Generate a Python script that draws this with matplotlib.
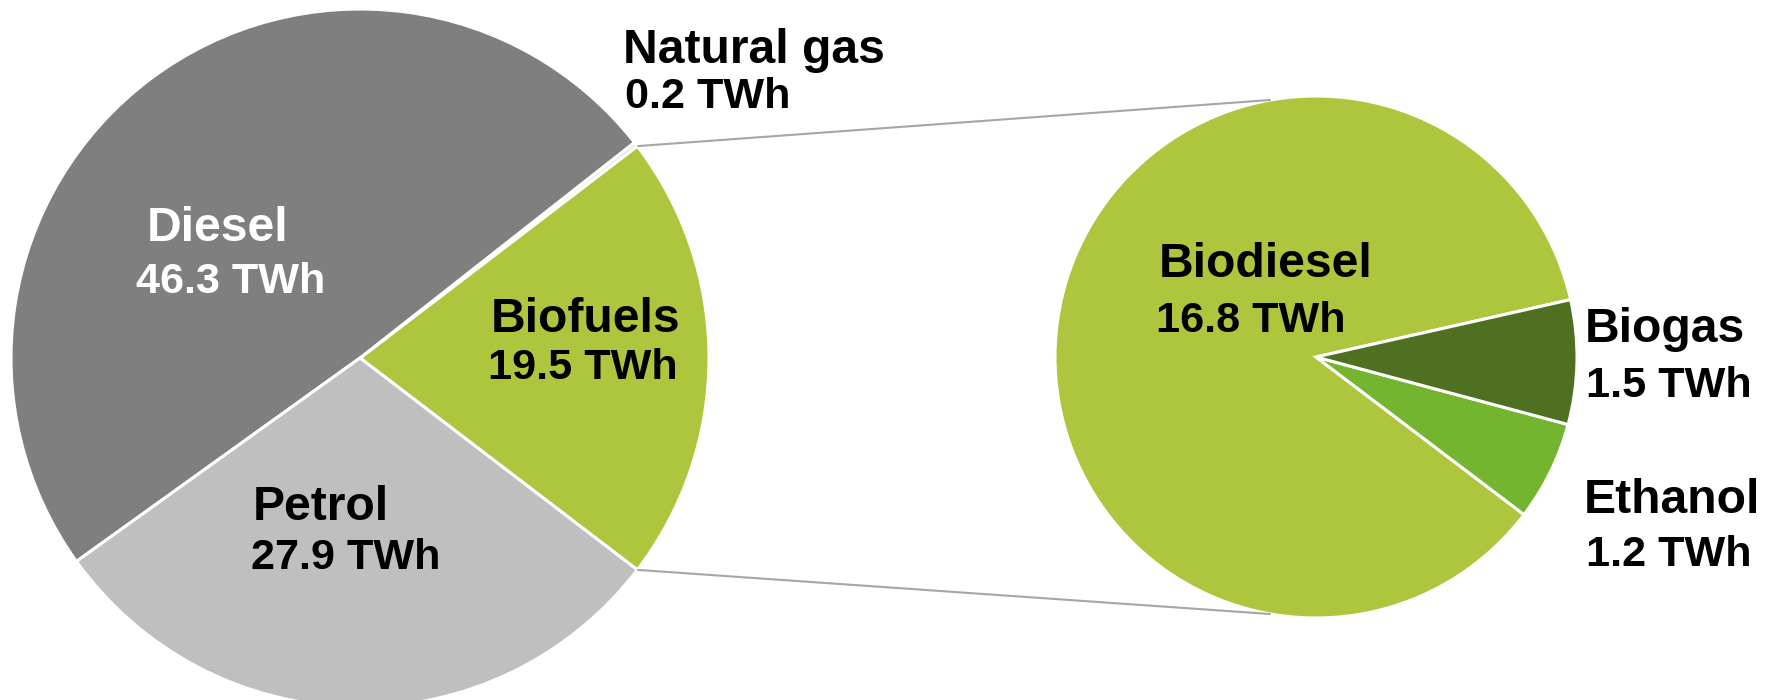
import matplotlib.pyplot as plt
import numpy as np

plt.rcParams['font.family'] = ['Liberation Sans', 'DejaVu Sans']

# left pie: transport fuel use
fuels = ["Biofuels", "Natural gas", "Diesel", "Petrol"]
fuel_twh = [19.5, 0.2, 46.3, 27.9]
fuel_colors = ["#aec63e", "#e6e6e6", "#7f7f7f", "#bfbfbf"]

# right pie: breakdown of biofuels
bio = ["Biodiesel", "Ethanol", "Biogas"]
bio_twh = [16.8, 1.2, 1.5]
bio_colors = ["#aec63e", "#74b530", "#4f7021"]

W, H = 1771, 700
fig = plt.figure(figsize=(W / 100, H / 100), dpi=100)
ax = fig.add_axes([0, 0, 1, 1])

# pie geometry in pixels (top-left origin)
c1, r1 = (360, 358), 349
c2, r2 = (1316, 357), 261

start1 = -fuel_twh[0] / sum(fuel_twh) * 360 / 2
ax.pie(fuel_twh, colors=fuel_colors, center=(c1[0], H - c1[1]), radius=r1,
       startangle=start1, counterclock=True,
       wedgeprops=dict(edgecolor="white", linewidth=2.2))

start2 = 12.7
ax.pie(bio_twh, colors=bio_colors, center=(c2[0], H - c2[1]), radius=r2,
       startangle=start2, counterclock=True,
       wedgeprops=dict(edgecolor="white", linewidth=2.2))

# connector lines from biofuels wedge to the second pie
for a1, a2 in [(-start1, 100), (start1, 260)]:
    x0 = c1[0] + r1 * np.cos(np.radians(a1))
    y0 = H - c1[1] + r1 * np.sin(np.radians(a1))
    x1 = c2[0] + r2 * np.cos(np.radians(a2))
    y1 = H - c2[1] + r2 * np.sin(np.radians(a2))
    ax.plot([x0, x1], [y0, y1], color="#a6a6a6", lw=1.5, solid_capstyle="butt")

# labels: (name, value, left x of name, baseline of name, left x of value, baseline of value, colour)
labels = [
    ("Diesel", 46.3, 147, 241, 136, 293, "white"),
    ("Biofuels", 19.5, 491, 332, 488, 379, "black"),
    ("Petrol", 27.9, 253, 520, 251, 569, "black"),
    ("Natural gas", 0.2, 623, 63, 625, 108, "black"),
    ("Biodiesel", 16.8, 1159, 277, 1156, 332, "black"),
    ("Biogas", 1.5, 1585, 342, 1586, 397, "black"),
    ("Ethanol", 1.2, 1584, 513, 1586, 566, "black"),
]
for name, val, nx, ny, vx, vy, col in labels:
    ax.text(nx, H - ny, name, fontsize=34.6, fontweight="bold", color=col,
            ha="left", va="baseline")
    ax.text(vx, H - vy, f"{val} TWh", fontsize=31.1, fontweight="bold", color=col,
            ha="left", va="baseline")

ax.set_xlim(0, W)
ax.set_ylim(0, H)
ax.set_aspect("equal")
ax.axis("off")

fig.savefig("out.png", dpi=100, facecolor="white")
